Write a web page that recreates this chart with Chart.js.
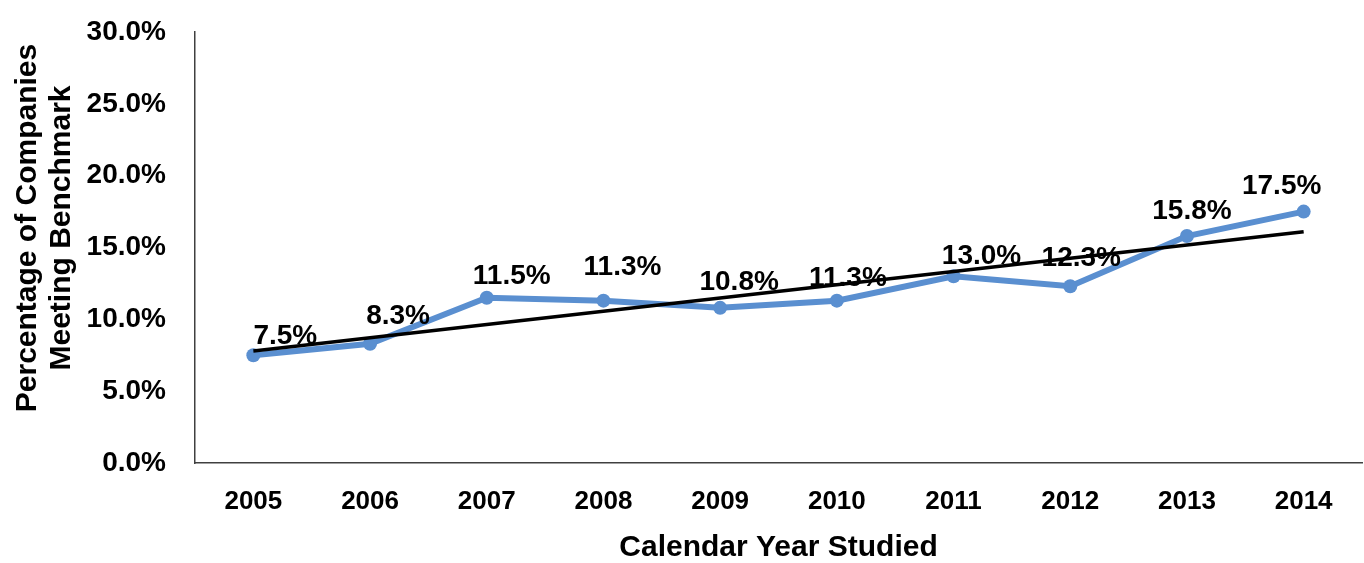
<!DOCTYPE html>
<html>
<head>
<meta charset="utf-8">
<script src="https://cdn.jsdelivr.net/npm/chart.js@4.4.1/dist/chart.umd.min.js"></script>
<style>
  html, body { margin: 0; padding: 0; background: #fff; }
  #wrap { width: 1364px; height: 563px; position: relative; }
</style>
</head>
<body>
<div id="wrap"><canvas id="chart" width="1364" height="563"></canvas></div>
<script>
// Calendar years and the share of companies meeting the benchmark (%)
const years = ['2005', '2006', '2007', '2008', '2009', '2010', '2011', '2012', '2013', '2014'];
const share = [7.5, 8.3, 11.5, 11.3, 10.8, 11.3, 13.0, 12.3, 15.8, 17.5];
// Linear trend line values at the first and last year
const trendEnds = [7.8, 16.1];
// Value axis range and step (%)
const yMin = 0, yMax = 30, yStep = 5;

const FONT = "'Liberation Sans', Arial, Helvetica, sans-serif";
const BLUE = '#5a8fd0';

const last = years.length - 1;
const trend = years.map((_, i) => (i === 0 ? trendEnds[0] : i === last ? trendEnds[1] : null));

// Label offsets (px) from each point to the centre of its value label
const labelShift = [
  [32, -19], [28, -27], [25, -22], [19, -33], [19, -26],
  [11, -22], [28, -20], [11, -28], [5, -25], [-22, -25]
];

const valueLabels = {
  id: 'valueLabels',
  afterDatasetsDraw(chart) {
    const meta = chart.getDatasetMeta(0);
    const ctx = chart.ctx;
    ctx.save();
    ctx.font = 'bold 28px ' + FONT;
    ctx.fillStyle = '#000';
    ctx.textAlign = 'center';
    ctx.textBaseline = 'middle';
    meta.data.forEach((pt, i) => {
      const [dx, dy] = labelShift[i];
      ctx.fillText(share[i].toFixed(1) + '%', pt.x + dx, pt.y + dy);
    });
    ctx.restore();
  }
};

const yTitle = {
  id: 'yTitle',
  afterDraw(chart) {
    const ctx = chart.ctx;
    ctx.save();
    ctx.translate(45, 228);
    ctx.rotate(-Math.PI / 2);
    ctx.font = 'bold 30px ' + FONT;
    ctx.fillStyle = '#000';
    ctx.textAlign = 'center';
    ctx.textBaseline = 'middle';
    ctx.fillText('Percentage of Companies', 0, -17);
    ctx.fillText('Meeting Benchmark', 0, 17);
    ctx.restore();
  }
};

new Chart(document.getElementById('chart'), {
  type: 'line',
  data: {
    labels: years,
    datasets: [
      {
        label: 'Share',
        data: share,
        borderColor: BLUE,
        backgroundColor: BLUE,
        borderWidth: 6,
        pointRadius: 7,
        pointBorderWidth: 0,
        pointBackgroundColor: BLUE,
        tension: 0,
        order: 2
      },
      {
        label: 'Linear trend',
        data: trend,
        spanGaps: true,
        borderColor: '#000',
        borderWidth: 3.5,
        pointRadius: 0,
        tension: 0,
        order: 1
      }
    ]
  },
  options: {
    responsive: false,
    animation: false,
    devicePixelRatio: 1,
    layout: { autoPadding: false, padding: { left: 0, right: 2, top: 32, bottom: 0 } },
    plugins: {
      legend: { display: false },
      tooltip: { enabled: false }
    },
    scales: {
      x: {
        offset: true,
        afterFit(s) {
          s.height = 100;
          s.paddingLeft = 0;
          s.paddingRight = 0;
        },
        grid: { display: false, drawTicks: false },
        border: { display: true, color: '#404040', width: 1.5 },
        ticks: {
          color: '#000',
          font: { family: FONT, size: 26, weight: 'bold' },
          padding: 23,
          maxRotation: 0
        },
        title: {
          display: true,
          text: 'Calendar Year Studied',
          color: '#000',
          font: { family: FONT, size: 30, weight: 'bold', lineHeight: 1 },
          padding: { top: 0, bottom: 0 }
        }
      },
      y: {
        min: yMin,
        max: yMax,
        afterFit(s) {
          s.width = 195;
          s.paddingTop = 0;
          s.paddingBottom = 0;
        },
        grid: { display: false, drawTicks: false },
        border: { display: true, color: '#404040', width: 1.5 },
        ticks: {
          stepSize: yStep,
          color: '#000',
          font: { family: FONT, size: 28, weight: 'bold' },
          padding: 29,
          callback: v => v.toFixed(1) + '%'
        }
      }
    }
  },
  plugins: [valueLabels, yTitle]
});
</script>
</body>
</html>
